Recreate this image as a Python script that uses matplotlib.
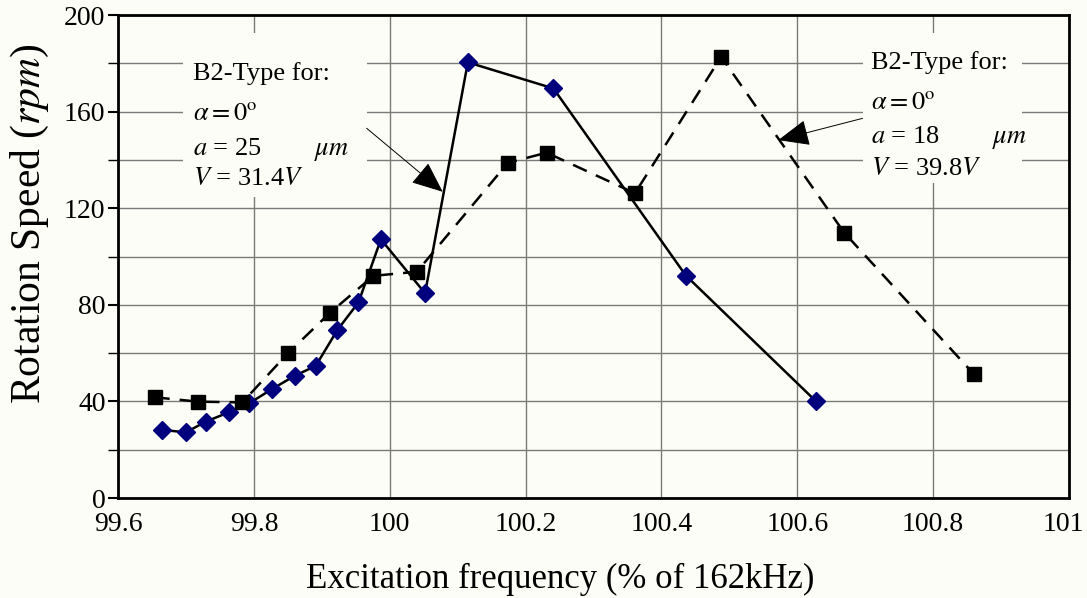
import matplotlib
matplotlib.use("Agg")
import matplotlib.pyplot as plt
import matplotlib.transforms as mtransforms
from matplotlib.patches import Rectangle, FancyArrowPatch
from matplotlib.ticker import MultipleLocator

# ---- data ----
freq_a25 = [99.665, 99.700, 99.729, 99.763, 99.793, 99.826, 99.860, 99.891,
            99.923, 99.954, 99.987, 100.052, 100.115, 100.241, 100.436, 100.627]
speed_a25 = [28.2, 27.2, 31.6, 35.5, 39.2, 45.0, 50.6, 54.7,
             69.6, 81.0, 107.1, 84.8, 180.4, 169.6, 92.1, 40.2]

freq_a18 = [99.654, 99.718, 99.783, 99.850, 99.912, 99.976, 100.040,
            100.174, 100.231, 100.361, 100.488, 100.669, 100.860]
speed_a18 = [41.7, 39.9, 39.6, 59.9, 76.7, 92.0, 93.7,
             138.8, 143.0, 126.2, 182.7, 109.9, 51.3]

x_ticks = [99.6, 99.8, 100, 100.2, 100.4, 100.6, 100.8, 101]
x_tick_labels = ["99.6", "99.8", "100", "100.2", "100.4", "100.6", "100.8", "101"]
y_ticks = [0, 40, 80, 120, 160, 200]

plt.rcParams['font.family'] = ['Liberation Serif', 'DejaVu Serif']
plt.rcParams['mathtext.fontset'] = 'stix'

bg = '#fdfdf7'
fig = plt.figure(figsize=(10.87, 5.98), dpi=100, facecolor=bg)
ax = fig.add_axes([0.1086, 0.1672, 0.8748, 0.8077], facecolor=bg)

ax.set_xlim(99.6, 101)
ax.set_ylim(0, 200)
ax.set_xticks(x_ticks)
ax.set_xticklabels(x_tick_labels)
ax.set_yticks(y_ticks)
ax.yaxis.set_minor_locator(MultipleLocator(20))
ax.tick_params(axis='both', which='major', labelsize=20, direction='out',
               length=7, width=1.5, colors='black')
ax.tick_params(axis='y', which='minor', direction='out', length=7, width=1.0)
ax.tick_params(axis='x', which='major', length=0, pad=10)
ax.tick_params(axis='y', which='major', pad=2)

# nudge the last x tick label left so it stays inside the figure
last = ax.get_xticklabels()[-1]
last.set_transform(last.get_transform() +
                   mtransforms.ScaledTranslation(-6 / 100, 0, fig.dpi_scale_trans))

ax.grid(True, which='both', color='#7a7a7a', linewidth=1.0)
ax.set_axisbelow(True)
for s in ax.spines.values():
    s.set_linewidth(2.0)
    s.set_color('black')

ax.plot(freq_a25, speed_a25, color='black', linewidth=1.8, linestyle='-',
        marker='D', markersize=9, markerfacecolor='#00007f',
        markeredgecolor='#00007f', zorder=3)
ax.plot(freq_a18, speed_a18, color='black', linewidth=1.8, linestyle=(0, (6, 4)),
        marker='s', markersize=9.5, markerfacecolor='black',
        markeredgecolor='black', zorder=3)

ax.set_xlabel("Excitation frequency (% of 162kHz)", fontsize=25)
ax.set_ylabel(r"Rotation Speed ($\mathit{rpm}$)", fontsize=30)
ax.xaxis.set_label_coords(0.465, -0.135)
ax.yaxis.set_label_coords(-0.070, 0.569)

# annotation boxes (background blocks behind the text)
ax.add_patch(Rectangle((99.696, 124.6), 0.270, 67.9, facecolor=bg,
                       edgecolor='none', zorder=2))
ax.add_patch(Rectangle((100.697, 130.4), 0.234, 62.1, facecolor=bg,
                       edgecolor='none', zorder=2))

tk = dict(fontsize=19, zorder=4, va='baseline', ha='left')
ax.text(99.710, 173.0, "B2-Type for:", **tk)
ax.text(99.710, 156.5, r"$\alpha = 0^{\mathrm{o}}$", **tk)
ax.text(99.710, 142.0, r"$a$ = 25", **tk)
ax.text(99.888, 142.0, r"$\mu m$", **tk)
ax.text(99.710, 129.6, r"$V$ = 31.4$V$", **tk)

ax.text(100.708, 177.5, "B2-Type for:", **tk)
ax.text(100.708, 161.0, r"$\alpha = 0^{\mathrm{o}}$", **tk)
ax.text(100.708, 146.9, r"$a$ = 18", **tk)
ax.text(100.887, 146.9, r"$\mu m$", **tk)
ax.text(100.708, 133.7, r"$V$ = 39.8$V$", **tk)

arrow_style = "-|>,head_length=0.9,head_width=0.38"
for (p0, p1) in [((99.966, 153.1), (100.078, 126.8)),
                 ((100.696, 157.2), (100.572, 148.2))]:
    ar = FancyArrowPatch(p0, p1, arrowstyle=arrow_style, mutation_scale=22,
                         color='black', linewidth=0.7, shrinkA=0, shrinkB=0,
                         zorder=5)
    ax.add_patch(ar)

fig.savefig("out.png", dpi=100, facecolor=bg)
